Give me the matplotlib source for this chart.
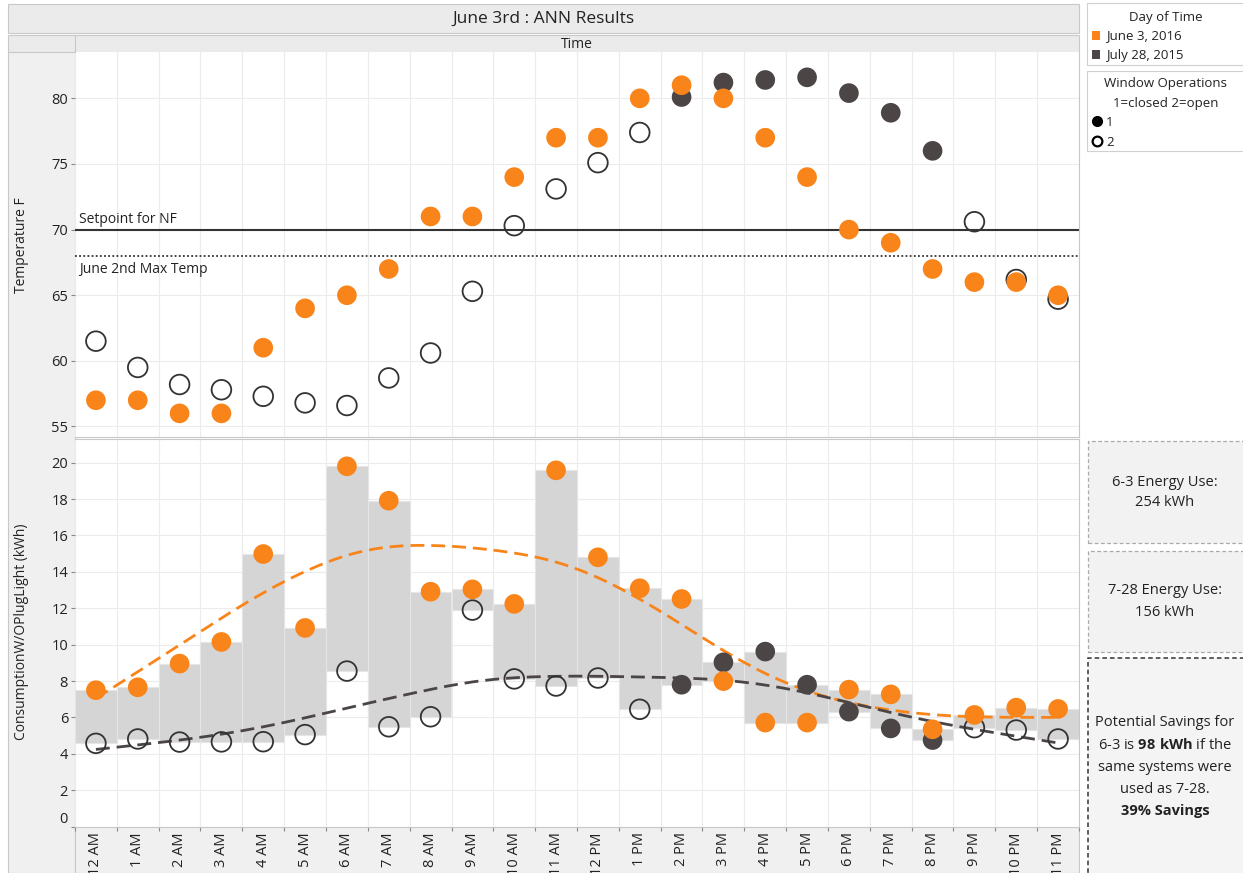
import numpy as np
import matplotlib
matplotlib.use('Agg')
import matplotlib.pyplot as plt
from matplotlib.patches import Rectangle
from matplotlib.lines import Line2D

# ---------------- data ----------------
hours = ['12 AM', '1 AM', '2 AM', '3 AM', '4 AM', '5 AM', '6 AM', '7 AM', '8 AM', '9 AM',
         '10 AM', '11 AM', '12 PM', '1 PM', '2 PM', '3 PM', '4 PM', '5 PM', '6 PM', '7 PM',
         '8 PM', '9 PM', '10 PM', '11 PM']
temp_jun3 = [57, 57, 56, 56, 61, 64, 65, 67, 71, 71, 74, 77, 77, 80, 81, 80, 77, 74, 70, 69,
             67, 66, 66, 65]
temp_jul28 = [61.5, 59.5, 58.2, 57.8, 57.3, 56.8, 56.6, 58.7, 60.6, 65.3, 70.3, 73.1, 75.1,
              77.4, 80.1, 81.2, 81.4, 81.6, 80.4, 78.9, 76.0, 70.6, 66.2, 64.7]
energy_jun3 = [7.5, 7.66, 8.96, 10.15, 14.98, 10.92, 19.8, 17.91, 12.91, 13.04, 12.24, 19.58,
               14.8, 13.1, 12.51, 8.0, 5.72, 5.72, 7.53, 7.27, 5.35, 6.14, 6.54, 6.47]
energy_jul28 = [4.58, 4.82, 4.65, 4.66, 4.67, 5.06, 8.55, 5.49, 6.04, 11.9, 8.12, 7.73, 8.17,
                6.45, 7.8, 9.03, 9.62, 7.8, 6.32, 5.4, 4.76, 5.44, 5.31, 4.82]
window_jun3 = [1] * 24
window_jul28 = [2] * 14 + [1] * 7 + [2] * 3
setpoint_nf = 70
june2_max_temp = 68
days = ['June 3, 2016', 'July 28, 2015']

# ---------------- style ----------------
plt.rcParams['font.family'] = ['Open Sans', 'DejaVu Sans']
plt.rcParams['mathtext.fontset'] = 'custom'
plt.rcParams['mathtext.rm'] = 'Open Sans'
plt.rcParams['mathtext.bf'] = 'Open Sans:bold'

ORANGE = '#F8841A'
DARK = '#4B4546'
GRID = '#ececec'
STRIP = '#f0f0f0'
BORDER = '#c8c8c8'
TXT = '#222222'

W, H = 1243, 873
fig = plt.figure(figsize=(W / 100, H / 100), dpi=100)
fig.patch.set_facecolor('white')


def fx(x):
    return x / W


def fy(y):
    return 1 - y / H


def rect_px(x0, y0, x1, y1):
    return [x0 / W, 1 - y1 / H, (x1 - x0) / W, (y1 - y0) / H]


def add_rect(x0, y0, x1, y1, fc, ec='none', lw=0.8, ls='-', z=0):
    r = Rectangle((fx(x0), fy(y1)), (x1 - x0) / W, (y1 - y0) / H, transform=fig.transFigure,
                  facecolor=fc, edgecolor=ec, linewidth=lw, linestyle=ls, zorder=z)
    fig.add_artist(r)
    return r


# background strips
add_rect(8, 4, 1079, 33, '#ebebeb', BORDER)            # title band
add_rect(8, 35, 1079, 52, '#ebebeb', BORDER)           # Time header band
add_rect(8, 52, 75, 873, STRIP, BORDER)                # left strip
add_rect(75, 826, 1079, 873, STRIP, BORDER)            # x label strip
fig.add_artist(Line2D([fx(75), fx(75)], [fy(35), fy(52)], transform=fig.transFigure,
                      color=BORDER, lw=0.8))
fig.text(fx(543), fy(19), 'June 3rd : ANN Results', ha='center', va='center',
         fontsize=12.5, color=TXT)
fig.text(fx(577), fy(44), 'Time', ha='center', va='center', fontsize=10, color=TXT)

x = np.arange(len(hours))
t6 = np.array(temp_jun3)
t7 = np.array(temp_jul28)
e6 = np.array(energy_jun3)
e7 = np.array(energy_jul28)
w6 = np.array(window_jun3)
w7 = np.array(window_jul28)


def smooth(y, lam, n_per=10):
    """penalised (cubic smoothing spline like) fit on a fine grid"""
    n = len(y)
    xf = np.linspace(0, n - 1, (n - 1) * n_per + 1)
    h = xf[1] - xf[0]
    N = len(xf)
    idx = np.arange(n) * n_per
    Wd = np.zeros(N)
    Wd[idx] = 1.0
    D = np.diff(np.eye(N), 2, axis=0) / h ** 2
    A = np.diag(Wd) + lam * h * D.T @ D
    b = np.zeros(N)
    b[idx] = y
    return xf, np.linalg.solve(A, b)


def style_axes(ax):
    ax.set_facecolor('white')
    ax.set_xlim(-0.5, len(hours) - 0.5)
    for s in ['left', 'top']:
        ax.spines[s].set_visible(False)
    for s in ['right', 'bottom']:
        ax.spines[s].set_color(BORDER)
        ax.spines[s].set_linewidth(0.8)
    for b in np.arange(-0.5, len(hours), 1.0):
        ax.axvline(b, color=GRID, lw=0.8, zorder=0)
    ax.tick_params(axis='y', direction='out', length=3, width=0.8, color='#888888',
                   labelsize=10.5, labelcolor=TXT, pad=2)


def draw_points(ax, vals, win, color, z):
    filled = win == 1
    ax.scatter(x[filled], vals[filled], s=200, color=color, edgecolors='none', zorder=z)
    if (~filled).any():
        ax.scatter(x[~filled], vals[~filled], s=200, facecolors='none', edgecolors='#333333',
                   linewidths=1.3, zorder=z)


# ---------------- top panel ----------------
ax1 = fig.add_axes(rect_px(75, 52, 1079, 437))
style_axes(ax1)
ax1.set_ylim(54.2, 83.53)
ax1.set_yticks([55, 60, 65, 70, 75, 80])
for v in [55, 60, 65, 70, 75, 80]:
    ax1.axhline(v, color=GRID, lw=0.8, zorder=0)
ax1.set_xticks([])
ax1.axhline(setpoint_nf, color='#333333', lw=1.5, zorder=2)
ax1.axhline(june2_max_temp, color='#333333', lw=1.3, ls=(0, (1, 1.3)), zorder=2)
ax1.text(-0.4, setpoint_nf + 0.2, 'Setpoint for NF', fontsize=10, color=TXT, va='bottom',
         ha='left')
ax1.text(-0.4, june2_max_temp - 0.45, 'June 2nd Max Temp', fontsize=10, color=TXT, va='top',
         ha='left')
draw_points(ax1, t7, w7, DARK, 3)
draw_points(ax1, t6, w6, ORANGE, 4)

# ---------------- bottom panel ----------------
ax2 = fig.add_axes(rect_px(75, 439, 1079, 826.7))
style_axes(ax2)
ax2.spines['top'].set_visible(True)
ax2.spines['top'].set_color(BORDER)
ax2.set_ylim(0, 21.3)
ax2.set_yticks(np.arange(0, 21, 2))
for v in np.arange(0, 21, 2):
    ax2.axhline(v, color=GRID, lw=0.8, zorder=0)
lo = np.minimum(e6, e7)
hi = np.maximum(e6, e7)
ax2.bar(x, hi - lo, bottom=lo, width=1.0, color='#d5d5d5', edgecolor='#e6e6e6', lw=0.8,
        zorder=1)
xs, ys6 = smooth(e6, 18.0)
_, ys7 = smooth(e7, 18.0)
ax2.plot(xs, ys6, color=ORANGE, lw=2.0, ls=(0, (5, 2.5)), zorder=2)
ax2.plot(xs, ys7, color=DARK, lw=2.0, ls=(0, (5, 2.5)), zorder=2)
draw_points(ax2, e7, w7, DARK, 3)
draw_points(ax2, e6, w6, ORANGE, 4)

ax2.set_xticks(np.arange(-0.5, len(hours), 1.0))
ax2.set_xticklabels([])
ax2.set_xticks(x, minor=True)
ax2.set_xticklabels(hours, minor=True, rotation=90, fontsize=10.5, color=TXT, va='top')
ax2.tick_params(axis='x', which='major', direction='out', length=3, width=0.8, color='#888888')
ax2.tick_params(axis='x', which='minor', length=0, pad=4)
ax2.get_yticklabels()[0].set_verticalalignment('bottom')

# y labels
fig.text(fx(22), fy(245), 'Temperature F', rotation=90, ha='center', va='center', fontsize=10,
         color=TXT)
fig.text(fx(22), fy(632), 'ConsumptionW/OPlugLight (kWh)', rotation=90, ha='center',
         va='center', fontsize=10, color=TXT)

# ---------------- legends ----------------
add_rect(1087, 3, 1250, 65, 'white', '#d0d0d0')
fig.text(fx(1166), fy(17), 'Day of Time', ha='center', va='center', fontsize=9.5, color=TXT)
add_rect(1092, 31, 1100, 40, ORANGE, z=2)
fig.text(fx(1106), fy(36), days[0], ha='left', va='center', fontsize=9.5, color=TXT)
add_rect(1092, 50, 1100, 59, DARK, z=2)
fig.text(fx(1106), fy(55), days[1], ha='left', va='center', fontsize=9.5, color=TXT)

add_rect(1087, 71, 1250, 151, 'white', '#d0d0d0')
fig.text(fx(1166), fy(84), 'Window Operations', ha='center', va='center', fontsize=9.5, color=TXT)
fig.text(fx(1166), fy(103), '1=closed 2=open', ha='center', va='center', fontsize=9.5, color=TXT)
fig.add_artist(Line2D([fx(1097)], [fy(121)], marker='o', ms=7, color='black', ls='none',
                      transform=fig.transFigure))
fig.text(fx(1106), fy(122), '1', ha='left', va='center', fontsize=9.5, color=TXT)
fig.add_artist(Line2D([fx(1097)], [fy(141)], marker='o', ms=7, mfc='white', mec='black', mew=1.6,
                      ls='none', transform=fig.transFigure))
fig.text(fx(1106), fy(142), '2', ha='left', va='center', fontsize=9.5, color=TXT)

# ---------------- info boxes ----------------
add_rect(1088, 441, 1250, 543, '#f2f2f2', '#aaaaaa', lw=0.9, ls=(0, (3, 2)))
fig.text(fx(1165), fy(482), '6-3 Energy Use:', ha='center', va='center', fontsize=10.5, color=TXT)
fig.text(fx(1165), fy(503), '254 kWh', ha='center', va='center', fontsize=10.5, color=TXT)
add_rect(1088, 551, 1250, 652, '#f2f2f2', '#aaaaaa', lw=0.9, ls=(0, (3, 2)))
fig.text(fx(1165), fy(591), '7-28 Energy Use:', ha='center', va='center', fontsize=10.5, color=TXT)
fig.text(fx(1165), fy(612), '156 kWh', ha='center', va='center', fontsize=10.5, color=TXT)
add_rect(1088, 658, 1250, 880, '#f4f4f4', '#333333', lw=1.1, ls=(0, (3, 2)))
lines5 = ['Potential Savings for', r'6-3 is $\mathbf{98\ kWh}$ if the', 'same systems were',
          'used as 7-28.']
for i, s in enumerate(lines5):
    fig.text(fx(1165), fy(723 + 22.3 * i), s, ha='center', va='center', fontsize=10.5, color=TXT)
fig.text(fx(1165), fy(811), '39% Savings', ha='center', va='center', fontsize=10.5,
         fontweight='bold', color=TXT)

fig.savefig('out.png', dpi=100)
